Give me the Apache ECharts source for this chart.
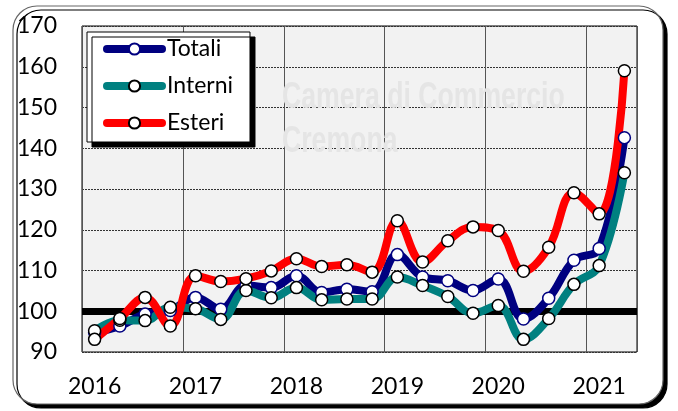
<!DOCTYPE html>
<html>
<head>
<meta charset="utf-8">
<script src="https://cdn.jsdelivr.net/npm/echarts@6/dist/echarts.min.js"></script>
<style>
  html, body { margin: 0; padding: 0; background: #fff; }
  #chart { width: 678px; height: 411px; }
</style>
</head>
<body>
<div id="chart"></div>
<script>
// trimestri 2016 - 2021
const categories = [
  '2016-T1', '2016-T2', '2016-T3', '2016-T4',
  '2017-T1', '2017-T2', '2017-T3', '2017-T4',
  '2018-T1', '2018-T2', '2018-T3', '2018-T4',
  '2019-T1', '2019-T2', '2019-T3', '2019-T4',
  '2020-T1', '2020-T2', '2020-T3', '2020-T4',
  '2021-T1', '2021-T2'
]

const totali = [94.8, 96.4, 99.3, 100.2, 103.4, 100.5, 106.3, 105.8, 108.7, 104.6, 105.4, 104.8,
  113.9, 108.4, 107.5, 105.1, 107.9, 98.1, 103.2, 112.5, 115.4, 142.6]
const interni = [95.2, 97.8, 97.7, 101.0, 100.6, 98.0, 105.1, 103.3, 105.8, 102.8, 103.0, 103.0,
  108.4, 106.3, 103.6, 99.5, 101.4, 93.1, 98.2, 106.6, 111.2, 134.0]
const esteri = [93.1, 98.2, 103.4, 96.4, 108.7, 107.3, 108.0, 109.9, 112.9, 111.0, 111.4, 109.6,
  122.2, 112.1, 117.3, 120.7, 119.8, 109.8, 115.7, 129.1, 123.9, 159.0]

const baseLevel = 100

const FONT = 'Lato'
const WM_FONT = 'bold 36px "Liberation Sans", sans-serif'

const chart = echarts.init(document.getElementById('chart'))

// serie a linea con pallini bianchi
const makeSeries = (name, data, color, border) => ({
  name,
  type: 'line',
  data,
  smooth: 0.4,
  symbol: 'circle',
  symbolSize: 12,
  lineStyle: {width: 8, color, cap: 'round', join: 'round'},
  itemStyle: {color: '#fff', borderColor: border, borderWidth: 1.5},
  emphasis: {disabled: true}
})

const sTot = makeSeries('Totali', totali, '#000080', '#000080')
// linea nera a quota 100
sTot.markLine = {
  silent: true,
  symbol: ['none', 'none'],
  z: 1,
  label: {show: false},
  lineStyle: {color: '#000', width: 7, type: 'solid'},
  data: [{yAxis: baseLevel}]
}

chart.setOption({
  animation: false,
  textStyle: {fontFamily: FONT},
  graphic: [
    {
      type: 'rect',
      z: -100,
      shape: {x: 13, y: 6, width: 650, height: 398, r: 24},
      style: {fill: '#fff', stroke: '#666', lineWidth: 1.2, shadowColor: '#000', shadowOffsetX: 4, shadowOffsetY: 4, shadowBlur: 0}
    },
    // filigrana
    {
      type: 'text', z: 1, x: 282, y: 80, scaleX: 0.74,
      style: {text: 'Camera di Commercio', font: WM_FONT, fill: '#e5e5e5', verticalAlign: 'top'}
    },
    {
      type: 'text', z: 1, x: 282, y: 124, scaleX: 0.74,
      style: {text: 'Cremona', font: WM_FONT, fill: '#e5e5e5', verticalAlign: 'top'}
    }
  ],
  grid: {
    left: 82, right: 41, top: 26, bottom: 59,
    show: true, backgroundColor: '#f2f2f2', borderColor: '#000', borderWidth: 1
  },
  legend: {
    left: 87, top: 32,
    orient: 'vertical',
    backgroundColor: '#fff',
    borderColor: '#000', borderWidth: 1,
    shadowColor: '#000', shadowBlur: 0, shadowOffsetX: 5, shadowOffsetY: 5,
    padding: [4, 17, 6, 16],
    itemGap: 11,
    itemWidth: 55, itemHeight: 14,
    lineStyle: {width: 8},
    textStyle: {fontFamily: FONT, fontSize: 23, color: '#000', lineHeight: 26},
    data: ['Totali', 'Interni', 'Esteri']
  },
  xAxis: {
    type: 'category',
    data: categories,
    boundaryGap: true,
    axisLine: {show: false},
    axisTick: {show: false},
    axisLabel: {
      interval: 3, margin: 23, fontSize: 23, color: '#000', fontFamily: FONT,
      formatter: v => v.slice(0, 4)
    },
    splitLine: {show: true, interval: 3, lineStyle: {color: '#555', width: 1}}
  },
  yAxis: {
    type: 'value',
    min: 90, max: 170, interval: 10,
    axisLine: {show: false},
    axisTick: {show: false},
    axisLabel: {margin: 25, fontSize: 23, color: '#000', fontFamily: FONT},
    splitLine: {lineStyle: {color: '#333', width: 1, type: [2, 1]}}
  },
  series: [
    sTot,
    makeSeries('Interni', interni, '#008080', '#000'),
    makeSeries('Esteri', esteri, '#ff0000', '#000')
  ]
})
</script>
</body>
</html>
